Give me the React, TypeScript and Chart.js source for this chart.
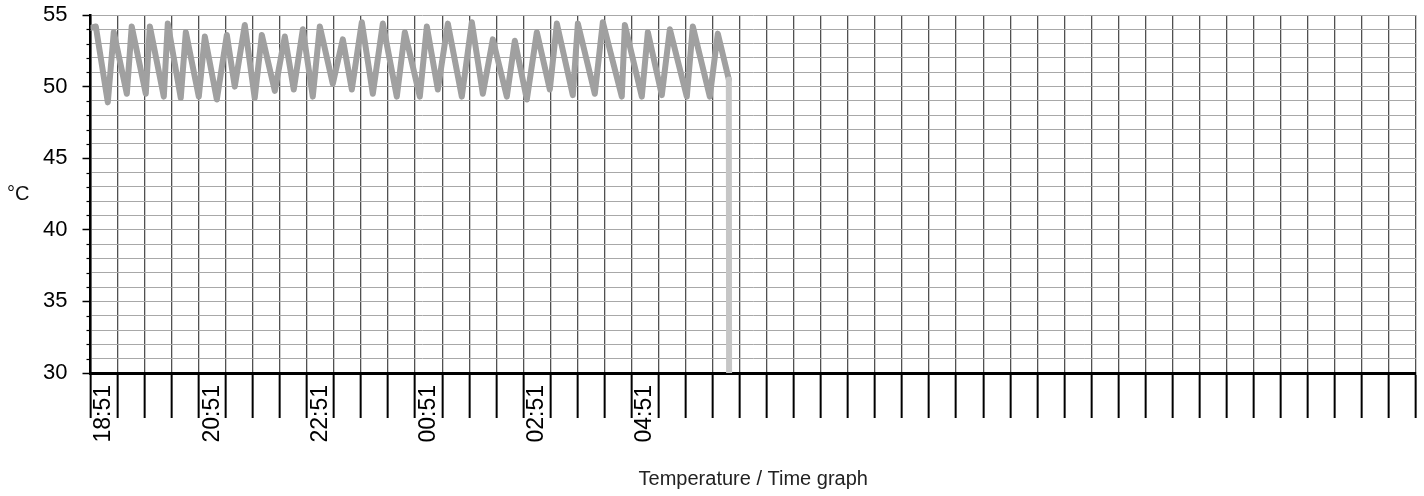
import React, { useEffect, useRef } from "react";
import { Chart, registerables } from "chart.js";

Chart.register(...registerables);

// minutes after the first grid line (18:51)
const timeMinutes = [
  0, 5.9, 19.2, 25.8, 40.3, 45.7, 61.3, 65.8, 81.3, 85.7, 100.1, 105.7, 120.1, 126.8,
  140.1, 151.2, 160.0, 171.1, 182.1, 190.0, 204.4, 215.5, 225.4, 235.5, 246.5, 254.3,
  268.7, 279.8, 289.8, 300.9, 313.1, 324.2, 339.7, 348.6, 365.2, 373.0, 385.2, 396.3,
  411.8, 422.9, 435.1, 446.2, 461.7, 470.6, 483.9, 495.0, 509.4, 517.2, 534.9, 540.5,
  559.3, 568.2, 589.2, 592.6, 611.4, 618.1, 633.6, 642.5, 661.3, 668.0, 686.8, 695.7,
  707.9, 708.2,
];
const temperatures = [
  54.1, 54.2, 48.9, 53.8, 49.5, 54.2, 49.5, 54.2, 49.3, 54.4, 49.2, 53.8, 49.3, 53.5,
  49.1, 53.6, 50.0, 54.3, 49.2, 53.6, 49.7, 53.5, 49.8, 54.0, 49.3, 54.2, 50.2, 53.3,
  49.8, 54.5, 49.5, 54.4, 49.3, 53.8, 49.3, 54.2, 49.8, 54.4, 49.3, 54.5, 49.5, 53.3,
  49.3, 53.2, 49.1, 53.8, 49.8, 54.4, 49.4, 54.4, 49.5, 54.5, 49.3, 54.3, 49.3, 53.8,
  49.4, 54.0, 49.3, 54.2, 49.3, 53.7, 50.5, 30.0,
];

const xMin = 0;
const xMax = 1470;
const xStep = 30;
const labelMinutes = [0, 120, 240, 360, 480, 600];
const tickLabels = ["18:51", "20:51", "22:51", "00:51", "02:51", "04:51"];

const yMin = 30;
const yMax = 55;
const yMajorStep = 5;

const FONT = "'Liberation Sans', Arial, sans-serif";

export default function App() {
  const canvasRef = useRef<HTMLCanvasElement | null>(null);

  useEffect(() => {
    const canvas = canvasRef.current;
    if (!canvas) return;

    const minorTicks = {
      id: "minorTicks",
      afterDraw(chart: any) {
        const y = chart.scales.y;
        const ctx = chart.ctx;
        ctx.save();
        ctx.strokeStyle = "#000";
        ctx.lineWidth = 1.2;
        for (const t of y.ticks) {
          if (t.value % yMajorStep === 0) continue;
          const py = Math.round(y.getPixelForValue(t.value)) + 0.5;
          ctx.beginPath();
          ctx.moveTo(y.right - 4, py);
          ctx.lineTo(y.right, py);
          ctx.stroke();
        }
        ctx.restore();
      },
    };

    const chart = new Chart(canvas, {
      type: "line",
      data: {
        datasets: [
          {
            data: timeMinutes.map((t, i) => ({ x: t, y: temperatures[i] })),
            borderColor: "#a0a0a0",
            borderWidth: 6,
            borderJoinStyle: "round",
            borderCapStyle: "round",
            pointRadius: 0,
            tension: 0,
            segment: {
              borderColor: (ctx: any) => (ctx.p1.parsed.y <= yMin + 0.01 ? "#c6c6c6" : undefined),
            },
          },
        ],
      },
      options: {
        responsive: false,
        animation: false,
        layout: { padding: { left: 0, right: 8, top: 15, bottom: 0 } },
        plugins: { legend: { display: false }, tooltip: { enabled: false } },
        scales: {
          x: {
            type: "linear",
            min: xMin,
            max: xMax,
            afterBuildTicks: (scale: any) => {
              const ticks = [];
              for (let v = xMin; v <= xMax; v += xStep) ticks.push({ value: v });
              scale.ticks = ticks;
            },
            afterFit: (scale: any) => {
              scale.height = 123;
              scale.paddingLeft = 0;
              scale.paddingRight = 0;
            },
            ticks: {
              autoSkip: false,
              minRotation: 90,
              maxRotation: 90,
              labelOffset: 13.5,
              padding: -33,
              color: "#000",
              font: { family: FONT, size: 23 },
              callback: (value: any) => {
                const i = labelMinutes.indexOf(Number(value));
                return i >= 0 ? tickLabels[i] : "";
              },
            },
            grid: {
              color: "#505050",
              lineWidth: 1.3,
              borderDash: [2, 2],
              tickLength: 45,
              tickColor: "#000",
              tickWidth: 2,
              tickBorderDash: [],
            },
            border: { display: true, color: "#000", width: 3 },
            title: {
              display: true,
              text: "Temperature / Time graph",
              color: "#222",
              font: { family: FONT, size: 20 },
              padding: { top: 0, bottom: 5 },
            },
          },
          y: {
            type: "linear",
            min: yMin,
            max: yMax,
            afterBuildTicks: (scale: any) => {
              const ticks = [];
              for (let v = yMin; v <= yMax; v += 1) ticks.push({ value: v });
              scale.ticks = ticks;
            },
            afterFit: (scale: any) => {
              scale.width = 90.5;
              scale.paddingTop = 0;
              scale.paddingBottom = 0;
            },
            ticks: {
              autoSkip: false,
              padding: 15,
              color: "#000",
              font: { family: FONT, size: 22 },
              callback: (value: any) => (Number(value) % yMajorStep === 0 ? String(value) : ""),
            },
            grid: {
              color: "#a8a8a8",
              lineWidth: 1,
              borderDash: [2, 2],
              tickLength: 8,
              tickWidth: 1.5,
              tickBorderDash: [],
              tickColor: (ctx: any) =>
                ctx.tick && ctx.tick.value % yMajorStep === 0 ? "#000" : "rgba(0,0,0,0)",
            },
            border: { display: true, color: "#000", width: 2.5 },
          },
        },
      },
      plugins: [minorTicks],
    } as any);

    return () => chart.destroy();
  }, []);

  return (
    <div
      style={{
        position: "fixed",
        left: 0,
        top: 0,
        width: 1424,
        height: 496,
        background: "#fff",
      }}
    >
      <canvas ref={canvasRef} width={1424} height={496} style={{ display: "block" }} />
      <div
        style={{
          position: "absolute",
          left: 7,
          top: 182,
          fontFamily: FONT,
          fontSize: 20,
          lineHeight: "22px",
          color: "#111",
        }}
      >
        °C
      </div>
    </div>
  );
}
